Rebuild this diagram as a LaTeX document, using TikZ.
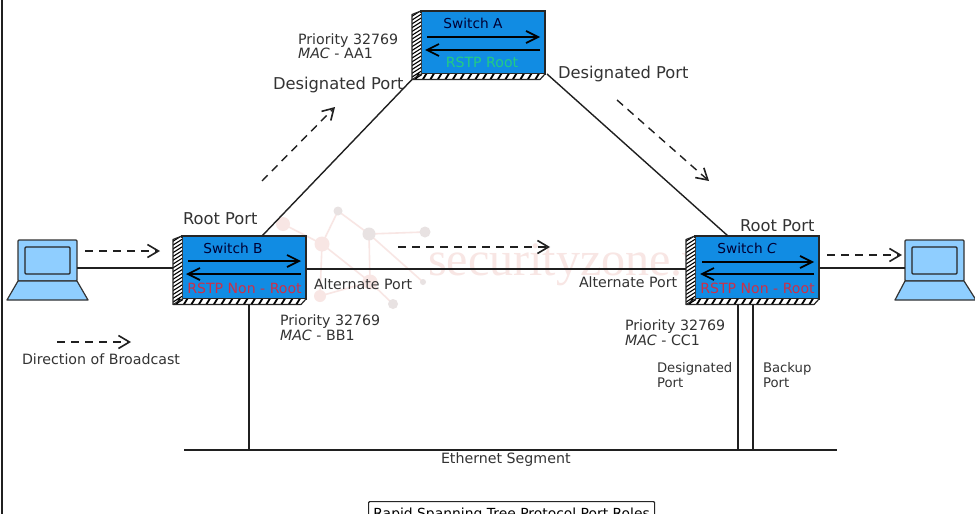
\documentclass[tikz,border=0pt]{standalone}
\usepackage{fontspec}
\setmainfont{DejaVu Sans}
\newfontfamily\wmfont{Liberation Serif}
\usetikzlibrary{arrows.meta,calc}
\definecolor{swblue}{HTML}{118CE3}
\definecolor{lapblue}{HTML}{8FCEFF}
\definecolor{lineblk}{HTML}{202020}
\definecolor{txtgray}{HTML}{333333}
\definecolor{rootred}{HTML}{CC3048}
\definecolor{rootgreen}{HTML}{22CC84}
\definecolor{wmpink}{HTML}{F8E6E4}
\definecolor{wmgray}{HTML}{E8E2E2}
\tikzset{
  lnk/.style={draw=lineblk,line width=1.4pt},
  flow/.style={draw=lineblk,line width=1.4pt,dash pattern=on 8pt off 6pt,-{Straight Barb[length=11pt,width=13pt,line width=1.6pt]}},
  inarrow/.style={draw=black,line width=1.7pt,-{Straight Barb[length=12pt,width=12pt,line width=1.7pt]}},
  lbl/.style={inner sep=0pt,outer sep=0pt,anchor=west,text=txtgray,font=\fontsize{16.3}{16.5}\selectfont},
  small/.style={lbl,font=\fontsize{14.2}{14.5}\selectfont},
  swname/.style={inner sep=0pt,text=black!80!blue,font=\fontsize{13.7}{14}\selectfont},
  swrole/.style={inner sep=0pt,font=\fontsize{14.1}{14.5}\selectfont},
  switchbox/.style={draw=black!85,line width=1.2pt,fill=swblue,minimum width=124pt,minimum height=63pt,inner sep=0pt,outer sep=0pt,anchor=north west},
  screenbox/.style={draw=black!80,line width=1.2pt,fill=lapblue,minimum width=59pt,minimum height=41pt,inner sep=0pt,outer sep=0pt,rounded corners=1pt,anchor=north west},
  wmline/.style={draw=wmpink,line width=1.6pt},
  wmdot/.style={circle,fill=wmgray,inner sep=0pt,outer sep=0pt}
}
% hatched side and bottom of a switch, drawn from the node's own anchors
\newcommand{\hatchsides}[1]{%
  \path (#1.north west) ++(-9,3.5) coordinate (#1-a)
        (#1.south west) ++(-9,5.5) coordinate (#1-b)
        (#1.south east) ++(-5,5.5) coordinate (#1-c);
  \begin{scope}
    \clip (#1.north west) -- (#1-a) -- (#1-b) -- (#1-c) -- (#1.south east) -- (#1.south west) -- cycle;
    \fill[white] ($(#1-a)+(-2,-2)$) rectangle ($(#1.south east)+(2,8)$);
    \foreach \k in {0,3.8,...,150}{
      \draw[black,line width=1.1pt] ($(#1-b)+(-1,-\k+2)$) -- ++(11,-7);
    }
    \foreach \k in {0,7.5,...,130}{
      \draw[black,line width=1.8pt] ($(#1-b)+(\k+3,0.5)$) -- ++(4,-6.5);
    }
  \end{scope}
  \draw[black!85,line width=1.2pt,line join=round] (#1.north west) -- (#1-a) -- (#1-b) -- (#1-c) -- (#1.south east);
  \draw[black!85,line width=1pt] (#1.south west) -- (#1-b);
}
\begin{document}
\begin{tikzpicture}[x=1pt,y=-1pt]
\useasboundingbox (0,0) rectangle (975,514);
\clip (0,0) rectangle (975,514);
\fill[white] (0,0) rectangle (975,514);

% watermark
\coordinate (w1) at (283,224);
\coordinate (w2) at (338,211);
\coordinate (w3) at (322,244);
\coordinate (w4) at (369,234);
\coordinate (w5) at (425,232);
\coordinate (w6) at (370,282);
\coordinate (w7) at (393,304);
\coordinate (w8) at (423,282);
\coordinate (w9) at (320,296);
\draw[wmline] (w1)--(w3) (w3)--(w2) (w2)--(w4) (w4)--(w5) (w4)--(w6) (w3)--(w6) (w6)--(w7) (w4)--(w8) (w9)--(w6) (w3)--(w9);
\node[wmdot,minimum size=14pt,fill=wmpink] (wd1) at (w1) {};
\node[wmdot,minimum size=9pt] (wd2) at (w2) {};
\node[wmdot,minimum size=15pt,fill=wmpink] (wd3) at (w3) {};
\node[wmdot,minimum size=13pt] (wd4) at (w4) {};
\node[wmdot,minimum size=11pt] (wd5) at (w5) {};
\node[wmdot,minimum size=15pt,fill=wmpink] (wd6) at (w6) {};
\node[wmdot,minimum size=10pt] (wd7) at (w7) {};
\node[wmdot,minimum size=6pt] (wd8) at (w8) {};
\node[wmdot,minimum size=12pt,fill=wmpink] (wd9) at (w9) {};
\node[inner sep=0pt,anchor=base west,text=wmpink,font=\wmfont\fontsize{48}{48}\selectfont] (wmtext) at (428,275) {securityzone.vn};

% left frame line
\coordinate (fa) at (2,0);
\coordinate (fb) at (2,514);
\draw[lnk,line width=1.6pt] (fa) -- (fb);

% switches
\node[switchbox] (swA) at (421,11) {};
\node[switchbox] (swB) at (182,236) {};
\node[switchbox] (swC) at (695,236) {};
\hatchsides{swA}
\hatchsides{swB}
\hatchsides{swC}

% laptops
\node[screenbox] (lapL) at (18,240) {};
\node[screenbox] (lapR) at (905,240) {};
\node[draw=black!85,line width=1.2pt,fill=lapblue,minimum width=45pt,minimum height=27pt,inner sep=0pt,rounded corners=1pt] (scrL) at (lapL.center) {};
\node[draw=black!85,line width=1.2pt,fill=lapblue,minimum width=45pt,minimum height=27pt,inner sep=0pt,rounded corners=1pt] (scrR) at (lapR.center) {};
\draw[draw=black!80,line width=1.2pt,fill=lapblue,line join=round] (lapL.south west) -- (lapL.south east) -- ++(11,19) -- ++(-81,0) -- cycle;
\draw[draw=black!80,line width=1.2pt,fill=lapblue,line join=round] (lapR.south west) -- (lapR.south east) -- ++(12,19) -- ++(-81,0) -- cycle;

% links
\draw[lnk] (lapL.east |- 0,268) -- (swB-a |- 0,268);
\draw[lnk] (swB.east |- 0,269) -- (swC-a |- 0,269);
\draw[lnk] (swC.east |- 0,268) -- (lapR.west |- 0,268);
\coordinate (ethW) at (184,450);
\coordinate (ethE) at (837,450);
\draw[lnk] (ethW) -- (ethE);
\path (swB.north west) ++(80,0) coordinate (bTop);
\draw[lnk] (swA-b) -- (bTop);
\path (swA.south east) ++(2,0) coordinate (aCstart) (swC.north west) ++(33,0) coordinate (cTop);
\draw[lnk] (aCstart) -- (cTop);
\draw[lnk] (249,0 |- swB-b) -- (249,0 |- ethW);
\draw[lnk] (738,0 |- swC-b) -- (738,0 |- ethW);
\draw[lnk] (753,0 |- swC-b) -- (753,0 |- ethW);

% arrows inside switches
\draw[inarrow] (427,37) -- (540,37);
\draw[inarrow] (540,50) -- (425,50);
\draw[inarrow] (188,261) -- (301,261);
\draw[inarrow] (301,274) -- (186,274);
\draw[inarrow] (702,262) -- (814,262);
\draw[inarrow] (814,274) -- (700,274);

% flow arrows
\coordinate (f1a) at (85,251); \coordinate (f1b) at (160,251);
\coordinate (f2a) at (57,342); \coordinate (f2b) at (131,342);
\coordinate (f3a) at (262,181); \coordinate (f3b) at (335,107);
\coordinate (f4a) at (617,100); \coordinate (f4b) at (709,181);
\coordinate (f5a) at (398,247); \coordinate (f5b) at (550,247);
\coordinate (f6a) at (827,255); \coordinate (f6b) at (902,255);
\draw[flow] (f1a) -- (f1b);
\draw[flow] (f2a) -- (f2b);
\draw[flow] (f3a) -- (f3b);
\draw[flow] (f4a) -- (f4b);
\draw[flow] (f5a) -- (f5b);
\draw[flow] (f6a) -- (f6b);

% switch labels
\node[swname] (tA) at (473,23) {Switch A};
\node[swname] (tB) at (233,248) {Switch B};
\node[swname] (tC) at (747,248) {Switch \textit{C}};
\node[swrole,text=rootgreen] (rA) at (482,62) {RSTP Root};
\node[swrole,text=rootred] (rB) at (244.5,288) {RSTP Non - Root};
\node[swrole,text=rootred] (rC) at (757.5,288) {RSTP Non - Root};

% port and priority labels
\node[small,align=left] (pA) at (298,46) {Priority 32769\\\textit{MAC} - AA1};
\node[small,align=left] (pB) at (280,327.5) {Priority 32769\\\textit{MAC} - BB1};
\node[small,align=left] (pC) at (625,332.5) {Priority 32769\\\textit{MAC} - CC1};
\node[lbl] (dp1) at (273,85) {Designated Port};
\node[lbl] (dp2) at (558,74) {Designated Port};
\node[lbl] (rp1) at (183,219) {Root Port};
\node[lbl] (rp2) at (740,226) {Root Port};
\node[small] (ap1) at (314,284) {Alternate Port};
\node[small] (ap2) at (579,282) {Alternate Port};
\node[small,align=left,font=\fontsize{13.2}{14.5}\selectfont] (dp3) at (657,375) {Designated\\Port};
\node[small,align=left,font=\fontsize{13.2}{14.5}\selectfont] (bp) at (763,375) {Backup\\Port};
\node[small] (dob) at (22,359) {Direction of Broadcast};
\node[small] (eth) at (441,460) {Ethernet Segment};
\node[draw=black!85,line width=1.2pt,fill=white,text=black,minimum width=286pt,minimum height=26pt,inner sep=0pt,anchor=north west,rounded corners=1pt,font=\fontsize{13.9}{14}\selectfont] (cap) at (368,501) {Rapid Spanning Tree Protocol Port Roles};
\end{tikzpicture}
\end{document}
